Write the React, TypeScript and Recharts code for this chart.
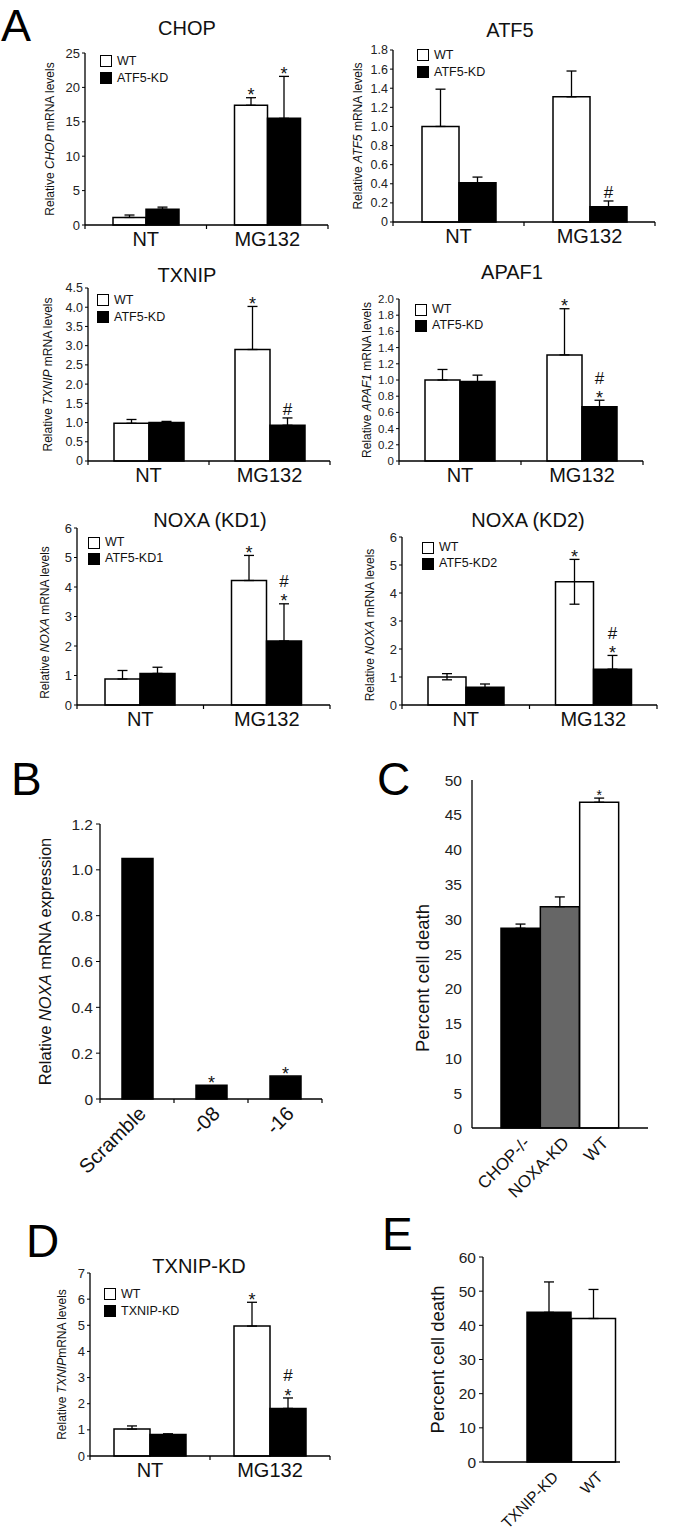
import React from 'react';
import { BarChart, Bar, XAxis, YAxis, ErrorBar, LabelList, Legend, Cell } from 'recharts';

const FONT = '"Liberation Sans", Arial, Helvetica, sans-serif';

// ---------- categories & names ----------
const groupCats = ['NT', 'MG132'];
const bCats = ['Scramble', '-08', '-16'];
const cCats = ['CHOP-/-', 'NOXA-KD', 'WT'];
const eCats = ['TXNIP-KD', 'WT'];
const wtName = 'WT';
const atf5KdName = 'ATF5-KD';
const atf5Kd1Name = 'ATF5-KD1';
const atf5Kd2Name = 'ATF5-KD2';
const txnipKdName = 'TXNIP-KD';

// ---------- CHOP ----------
const chopWT = [1.1, 17.4];
const chopWTUp = [0.35, 1.1];
const chopKD = [2.3, 15.5];
const chopKDUp = [0.3, 6.1];
const chopWTMarks = ['', '*'];
const chopKDMarks = ['', '*'];
const chopTicks = [0, 5, 10, 15, 20, 25];

// ---------- ATF5 ----------
const atf5WT = [1.0, 1.31];
const atf5WTUp = [0.39, 0.27];
const atf5KD = [0.41, 0.16];
const atf5KDUp = [0.06, 0.06];
const atf5WTMarks = ['', ''];
const atf5KDMarks = ['', '#'];
const atf5Ticks = [0, 0.2, 0.4, 0.6, 0.8, 1.0, 1.2, 1.4, 1.6, 1.8];

// ---------- TXNIP ----------
const txnipWT = [0.98, 2.9];
const txnipWTUp = [0.1, 1.12];
const txnipKD = [1.0, 0.93];
const txnipKDUp = [0.03, 0.19];
const txnipWTMarks = ['', '*'];
const txnipKDMarks = ['', '#'];
const txnipTicks = [0, 0.5, 1.0, 1.5, 2.0, 2.5, 3.0, 3.5, 4.0, 4.5];

// ---------- APAF1 ----------
const apafWT = [1.0, 1.31];
const apafWTUp = [0.13, 0.57];
const apafKD = [0.98, 0.67];
const apafKDUp = [0.08, 0.08];
const apafWTMarks = ['', '*'];
const apafKDMarks = ['', '#*'];
const apafTicks = [0, 0.2, 0.4, 0.6, 0.8, 1.0, 1.2, 1.4, 1.6, 1.8, 2.0];

// ---------- NOXA (KD1) ----------
const noxa1WT = [0.88, 4.22];
const noxa1WTUp = [0.29, 0.85];
const noxa1KD = [1.07, 2.17];
const noxa1KDUp = [0.21, 1.26];
const noxa1WTMarks = ['', '*'];
const noxa1KDMarks = ['', '#*'];
const noxaTicks = [0, 1, 2, 3, 4, 5, 6];

// ---------- NOXA (KD2) ----------
const noxa2WT = [1.0, 4.4];
const noxa2WTUp = [0.12, 0.8];
const noxa2WTDown = [0.1, 0.8];
const noxa2KD = [0.63, 1.28];
const noxa2KDUp = [0.12, 0.49];
const noxa2KDDown = [0.08, 0];
const noxa2WTMarks = ['', '*'];
const noxa2KDMarks = ['', '#*'];

// ---------- B ----------
const bVals = [1.05, 0.06, 0.1];
const bMarks = ['', '*', '*'];
const bTicks = [0, 0.2, 0.4, 0.6, 0.8, 1.0, 1.2];

// ---------- C ----------
const cVals = [28.7, 31.8, 46.8];
const cUp = [0.6, 1.4, 0.6];
const cMarks = ['', '', '*'];
const cTicks = [0, 5, 10, 15, 20, 25, 30, 35, 40, 45, 50];

// ---------- D ----------
const dWT = [1.03, 4.97];
const dWTUp = [0.12, 0.91];
const dKD = [0.82, 1.82];
const dKDUp = [0.03, 0.4];
const dWTMarks = ['', '*'];
const dKDMarks = ['', '#*'];
const dTicks = [0, 1, 2, 3, 4, 5, 6, 7];

// ---------- E ----------
const eVals = [43.8, 42.0];
const eUp = [8.9, 8.5];
const eMarks = ['', ''];
const eTicks = [0, 10, 20, 30, 40, 50, 60];

const zeros2 = [0, 0];

function groupRows(wt: number[], wtUp: number[], wtDown: number[], kd: number[], kdUp: number[], kdDown: number[], wtM: string[], kdM: string[]) {
  return groupCats.map((cat, i) => ({
    cat,
    wt: wt[i],
    kd: kd[i],
    wtErr: [wtDown[i], wtUp[i]],
    kdErr: [kdDown[i], kdUp[i]],
    wtMark: wtM[i],
    kdMark: kdM[i],
  }));
}

function singleRows(cats: string[], vals: number[], up: number[], marks: string[]) {
  return cats.map((cat, i) => ({ cat, v: vals[i], err: [0, up[i]], mark: marks[i] }));
}

const LW = 80;
const TM = 20;
const RM = 14;
const BH = 90;

function fmt(dec: number) {
  return (v: any) => (Number(v) === 0 ? '0' : dec ? Number(v).toFixed(dec) : String(v));
}

function makeCatTick(o: any) {
  return (props: any) => {
    const { x, index, payload } = props;
    const ay = o.axisY;
    const els: any[] = [];
    if (o.boundaryTicks) {
      els.push(<line key="l" x1={x - o.half} x2={x - o.half} y1={ay} y2={ay + 4} stroke="#000" strokeWidth={1.2} />);
      if (index === o.n - 1) {
        els.push(<line key="r" x1={x + o.half} x2={x + o.half} y1={ay} y2={ay + 4} stroke="#000" strokeWidth={1.2} />);
      }
    }
    if (o.rotate) {
      const tx = x + 10;
      const ty = ay + 16;
      els.push(
        <text key="t" x={tx} y={ty} transform={`rotate(-45 ${tx} ${ty})`} textAnchor="end" fontSize={o.font} fontFamily={FONT} fill="#111">
          {payload.value}
        </text>
      );
    } else {
      els.push(
        <text key="t" x={x} y={ay + 21} textAnchor="middle" fontSize={o.font} fontFamily={FONT} fill="#111">
          {payload.value}
        </text>
      );
    }
    return <g>{els}</g>;
  };
}

function makeMark(rows: any[], errKey: string, ppu: number, starFont: number) {
  return (props: any) => {
    const vb = props.viewBox || props;
    const x = vb.x ?? props.x;
    const y = vb.y ?? props.y;
    const w = vb.width ?? props.width;
    const idx = props.index;
    const v = props.value;
    if (!v || idx == null || !rows[idx]) return null;
    const hi = rows[idx][errKey][1];
    const top = y - hi * ppu;
    const cx = x + w / 2;
    const hashFont = starFont - 1;
    const starBase = top - 4 + 0.42 * starFont;
    const els: any[] = [];
    if (v.includes('*')) {
      els.push(
        <text key="s" x={cx} y={starBase} textAnchor="middle" fontSize={starFont} fontFamily={FONT} fill="#111">*</text>
      );
    }
    if (v.includes('#')) {
      els.push(
        <text key="h" x={cx} y={v.includes('*') ? top - 16.5 : top - 3} textAnchor="middle" fontSize={hashFont} fontFamily={FONT} fill="#111">#</text>
      );
    }
    return <g>{els}</g>;
  };
}

function YLabel(props: any) {
  const { lx, ly, parts, fs } = props;
  return (
    <text x={lx} y={ly} transform={`rotate(-90 ${lx} ${ly})`} textAnchor="middle" dominantBaseline="central" fontSize={fs} fontFamily={FONT} fill="#111">
      {parts.map((pt: string, i: number) => (
        <tspan key={i} fontStyle={i === 1 ? 'italic' : 'normal'}>{pt}</tspan>
      ))}
    </text>
  );
}

function LegendBox({ names, fs, gap }: any) {
  return (
    <div style={{ fontFamily: FONT, fontSize: fs, lineHeight: 1, color: '#111' }}>
      {names.map((n: string, i: number) => (
        <div key={n} style={{ display: 'flex', alignItems: 'center', height: gap, whiteSpace: 'nowrap' }}>
          <span style={{ display: 'inline-block', width: 10, height: 10, border: '1.5px solid #000', background: i === 0 ? '#fff' : '#000', marginRight: 5 }} />
          <span>{n}</span>
        </div>
      ))}
    </div>
  );
}

function GroupPanel({ p, rows, names }: any) {
  const pw = p.x2 - p.x1;
  const ph = p.y2 - p.y1;
  const W = LW + pw + RM;
  const H = TM + ph + 40;
  const left = p.x1 - LW;
  const top = p.y1 - TM;
  const axisY = TM + ph;
  const ppu = ph / p.yMax;
  const half = pw / rows.length / 2;
  return (
    <div style={{ position: 'absolute', left, top, width: W, height: H }}>
      <BarChart width={W} height={H} data={rows} margin={{ top: TM, right: RM, left: 0, bottom: 0 }} barGap={0} barSize={p.barSize}>
        <XAxis
          dataKey="cat"
          height={40}
          interval={0}
          axisLine={{ stroke: '#000', strokeWidth: 1.3 }}
          tickLine={false}
          tick={makeCatTick({ axisY, half, n: rows.length, boundaryTicks: true, rotate: false, font: 20 })}
        />
        <YAxis
          width={LW}
          domain={[0, p.yMax]}
          ticks={p.ticks}
          interval={0}
          tickFormatter={fmt(p.dec)}
          axisLine={{ stroke: '#000', strokeWidth: 1.3 }}
          tickLine={{ stroke: '#000', strokeWidth: 1 }}
          tickSize={3}
          tickMargin={2}
          tick={{ fontSize: p.tickFont, fill: '#222', fontFamily: FONT }}
          label={<YLabel lx={LW - (p.x1 - p.ylabX)} ly={TM + ph / 2 + (p.ylabDy || 0)} parts={p.ylab} fs={p.ylabFont || 12} />}
        />
        <Legend
          layout="vertical"
          align="center"
          verticalAlign="middle"
          wrapperStyle={{ left: p.legX - left, top: p.legY - top, width: 120, height: p.legGap * 2, right: 'auto', bottom: 'auto' }}
          content={() => <LegendBox names={names} fs={12.5} gap={p.legGap} />}
        />
        <Bar dataKey="wt" name={names[0]} fill="#fff" stroke="#000" strokeWidth={1.5} isAnimationActive={false}>
          <ErrorBar dataKey="wtErr" width={5} stroke="#000" strokeWidth={1.3} direction="y" />
          <LabelList dataKey="wtMark" content={makeMark(rows, 'wtErr', ppu, 18)} />
        </Bar>
        <Bar dataKey="kd" name={names[1]} fill="#000" stroke="#000" strokeWidth={1.5} isAnimationActive={false}>
          <ErrorBar dataKey="kdErr" width={5} stroke="#000" strokeWidth={1.3} direction="y" />
          <LabelList dataKey="kdMark" content={makeMark(rows, 'kdErr', ppu, 18)} />
        </Bar>
      </BarChart>
    </div>
  );
}

function SinglePanel({ p, rows }: any) {
  const pw = p.x2 - p.x1;
  const ph = p.y2 - p.y1;
  const W = LW + pw + RM;
  const H = TM + ph + BH;
  const left = p.x1 - LW;
  const top = p.y1 - TM;
  const axisY = TM + ph;
  const ppu = ph / p.yMax;
  const padL = p.padL || 0;
  const padR = p.padR || 0;
  const half = (pw - padL - padR) / rows.length / 2;
  return (
    <div style={{ position: 'absolute', left, top, width: W, height: H }}>
      <BarChart width={W} height={H} data={rows} margin={{ top: TM, right: RM, left: 0, bottom: 0 }} barCategoryGap={0} barSize={p.barSize}>
        <XAxis
          dataKey="cat"
          height={BH}
          interval={0}
          padding={{ left: padL, right: padR }}
          axisLine={{ stroke: '#000', strokeWidth: 1.3 }}
          tickLine={false}
          tick={makeCatTick({ axisY, half, n: rows.length, boundaryTicks: p.boundaryTicks, rotate: true, font: p.catFont })}
        />
        <YAxis
          width={LW}
          domain={[0, p.yMax]}
          ticks={p.ticks}
          interval={0}
          tickFormatter={fmt(p.dec)}
          axisLine={{ stroke: '#000', strokeWidth: 1.3 }}
          tickLine={p.noYTick ? false : { stroke: '#000', strokeWidth: 1 }}
          tickSize={p.noYTick ? 0 : 4}
          tickMargin={p.noYTick ? 10 : 3}
          tick={{ fontSize: p.tickFont, fill: '#222', fontFamily: FONT }}
          label={<YLabel lx={LW - (p.x1 - p.ylabX)} ly={TM + ph / 2 + (p.ylabDy || 0)} parts={p.ylab} fs={p.ylabFont} />}
        />
        <Bar dataKey="v" stroke="#000" strokeWidth={1.5} isAnimationActive={false}>
          {rows.map((r: any, i: number) => (
            <Cell key={r.cat} fill={p.fills[i]} />
          ))}
          {p.showErr ? <ErrorBar dataKey="err" width={5} stroke="#000" strokeWidth={1.3} direction="y" /> : null}
          <LabelList dataKey="mark" content={makeMark(rows, 'err', ppu, p.starFont)} />
        </Bar>
      </BarChart>
    </div>
  );
}

const chopRows = groupRows(chopWT, chopWTUp, zeros2, chopKD, chopKDUp, zeros2, chopWTMarks, chopKDMarks);
const atf5Rows = groupRows(atf5WT, atf5WTUp, zeros2, atf5KD, atf5KDUp, zeros2, atf5WTMarks, atf5KDMarks);
const txnipRows = groupRows(txnipWT, txnipWTUp, zeros2, txnipKD, txnipKDUp, zeros2, txnipWTMarks, txnipKDMarks);
const apafRows = groupRows(apafWT, apafWTUp, zeros2, apafKD, apafKDUp, zeros2, apafWTMarks, apafKDMarks);
const noxa1Rows = groupRows(noxa1WT, noxa1WTUp, zeros2, noxa1KD, noxa1KDUp, zeros2, noxa1WTMarks, noxa1KDMarks);
const noxa2Rows = groupRows(noxa2WT, noxa2WTUp, noxa2WTDown, noxa2KD, noxa2KDUp, noxa2KDDown, noxa2WTMarks, noxa2KDMarks);
const dRows = groupRows(dWT, dWTUp, zeros2, dKD, dKDUp, zeros2, dWTMarks, dKDMarks);
const bRows = singleRows(bCats, bVals, [0, 0, 0], bMarks);
const cRows = singleRows(cCats, cVals, cUp, cMarks);
const eRows = singleRows(eCats, eVals, eUp, eMarks);

const overlayTexts = [
  { t: 'A', x: 1, y: 41, fs: 45 },
  { t: 'B', x: 11, y: 795, fs: 46 },
  { t: 'C', x: 377, y: 795, fs: 46 },
  { t: 'D', x: 26, y: 1257, fs: 46 },
  { t: 'E', x: 382, y: 1250, fs: 46 },
];
const titleTexts = [
  { t: 'CHOP', x: 187, y: 35 },
  { t: 'ATF5', x: 510, y: 37 },
  { t: 'TXNIP', x: 187, y: 282 },
  { t: 'APAF1', x: 512, y: 279 },
  { t: 'NOXA (KD1)', x: 210, y: 527 },
  { t: 'NOXA (KD2)', x: 528, y: 527 },
  { t: 'TXNIP-KD', x: 199, y: 1273 },
];

export default function App() {
  return (
    <div style={{ position: 'absolute', left: 0, top: 0, width: 683, height: 1531, background: '#fff', fontFamily: FONT, overflow: 'hidden' }}>
      <GroupPanel
        rows={chopRows}
        names={[wtName, atf5KdName]}
        p={{ x1: 85, y1: 53, x2: 328, y2: 225, yMax: 25, ticks: chopTicks, dec: 0, tickFont: 13, barSize: 33, legX: 100, legY: 52.5, legGap: 17, ylab: ['Relative ', 'CHOP', ' mRNA levels'], ylabX: 50 }}
      />
      <GroupPanel
        rows={atf5Rows}
        names={[wtName, atf5KdName]}
        p={{ x1: 393, y1: 50, x2: 655, y2: 222, yMax: 1.8, ticks: atf5Ticks, dec: 1, tickFont: 12.5, barSize: 37, legX: 417, legY: 46.5, legGap: 17, ylab: ['Relative ', 'ATF5', ' mRNA levels'], ylabX: 358 }}
      />
      <GroupPanel
        rows={txnipRows}
        names={[wtName, atf5KdName]}
        p={{ x1: 88, y1: 288, x2: 330, y2: 461, yMax: 4.5, ticks: txnipTicks, dec: 1, tickFont: 12.5, barSize: 35, legX: 97, legY: 291.5, legGap: 17, ylab: ['Relative ', 'TXNIP', ' mRNA levels'], ylabX: 48 }}
      />
      <GroupPanel
        rows={apafRows}
        names={[wtName, atf5KdName]}
        p={{ x1: 399, y1: 299, x2: 643, y2: 461, yMax: 2.0, ticks: apafTicks, dec: 1, tickFont: 11.5, barSize: 35, legX: 415, legY: 301.5, legGap: 16, ylab: ['Relative ', 'APAF1', ' mRNA levels'], ylabX: 367 }}
      />
      <GroupPanel
        rows={noxa1Rows}
        names={[wtName, atf5Kd1Name]}
        p={{ x1: 77, y1: 528, x2: 330, y2: 705, yMax: 6, ticks: noxaTicks, dec: 0, tickFont: 13, barSize: 35, legX: 88, legY: 534.5, legGap: 16, ylab: ['Relative ', 'NOXA', ' mRNA levels'], ylabX: 45, ylabDy: 6 }}
      />
      <GroupPanel
        rows={noxa2Rows}
        names={[wtName, atf5Kd2Name]}
        p={{ x1: 402, y1: 537, x2: 657, y2: 705, yMax: 6, ticks: noxaTicks, dec: 0, tickFont: 13, barSize: 38, legX: 422, legY: 539.5, legGap: 16, ylab: ['Relative ', 'NOXA', ' mRNA levels'], ylabX: 370, ylabDy: 4 }}
      />
      <GroupPanel
        rows={dRows}
        names={[wtName, txnipKdName]}
        p={{ x1: 90, y1: 1273, x2: 330, y2: 1456, yMax: 7, ticks: dTicks, dec: 0, tickFont: 13, barSize: 36, legX: 104, legY: 1285.5, legGap: 17, ylab: ['Relative ', 'TXNIP', 'mRNA levels'], ylabX: 62 }}
      />
      <SinglePanel
        rows={bRows}
        p={{ x1: 100, y1: 824, x2: 322, y2: 1099, yMax: 1.2, ticks: bTicks, dec: 1, tickFont: 15.5, barSize: 31, boundaryTicks: true, catFont: 20, ylab: ['Relative ', 'NOXA', ' mRNA expression'], ylabX: 45, ylabFont: 16.5, fills: ['#000', '#000', '#000'], starFont: 18, showErr: false }}
      />
      <SinglePanel
        rows={cRows}
        p={{ x1: 472, y1: 780, x2: 648, y2: 1128, yMax: 50, ticks: cTicks, dec: 0, tickFont: 15.5, noYTick: true, padL: 29, padR: 29, barSize: 39, boundaryTicks: false, catFont: 17, ylab: ['Percent cell death'], ylabX: 422, ylabFont: 18.5, ylabDy: 24, fills: ['#000', '#666', '#fff'], starFont: 14, showErr: true }}
      />
      <SinglePanel
        rows={eRows}
        p={{ x1: 483, y1: 1257, x2: 620, y2: 1462, yMax: 60, ticks: eTicks, dec: 0, tickFont: 15.5, padL: 44, padR: 4, barSize: 44, boundaryTicks: false, catFont: 15.5, ylab: ['Percent cell death'], ylabX: 437, ylabFont: 18.5, fills: ['#000', '#fff'], starFont: 14, showErr: true }}
      />
      <svg width={683} height={1531} style={{ position: 'absolute', left: 0, top: 0, pointerEvents: 'none' }}>
        {overlayTexts.map((o) => (
          <text key={o.t} x={o.x} y={o.y} fontSize={o.fs} fontFamily={FONT} fill="#000">{o.t}</text>
        ))}
        {titleTexts.map((o) => (
          <text key={o.t} x={o.x} y={o.y} fontSize={20} textAnchor="middle" fontFamily={FONT} fill="#111">{o.t}</text>
        ))}
      </svg>
    </div>
  );
}
